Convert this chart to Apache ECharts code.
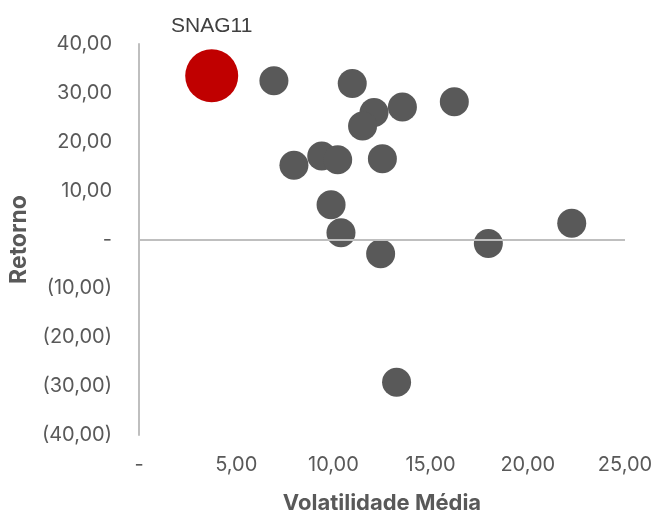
<!DOCTYPE html>
<html>
<head>
<meta charset="utf-8">
<script src="https://cdn.jsdelivr.net/npm/echarts@6/dist/echarts.min.js"></script>
<style>
  html, body { margin: 0; padding: 0; background: #fff; }
  #chart { width: 657px; height: 511px; }
</style>
</head>
<body>
<div id="chart"></div>
<script>
// fundos (volatilidade média x retorno)
const volatilidade = [6.94, 10.97, 12.09, 13.55, 16.22, 11.5, 7.97, 9.4, 10.22, 12.52, 9.88, 10.39, 12.43, 17.97, 22.26, 13.25];
const retorno = [32.5, 31.9, 26.0, 27.1, 28.2, 23.2, 15.2, 17.1, 16.3, 16.5, 7.1, 1.4, -2.9, -0.8, 3.3, -29.2];

// destaque
const destaqueNome = 'SNAG11';
const destaqueVol = 3.74;
const destaqueRet = 33.5;

const xTicks = [0, 5, 10, 15, 20, 25];
const yTicks = [-40, -30, -20, -10, 0, 10, 20, 30, 40];

const fonte = 'Inter';

function fmt(v) {
	if (v === 0) return '-';
	const s = Math.abs(v).toFixed(2).replace('.', ',');
	return v < 0 ? '(' + s + ')' : s;
}

const chart = echarts.init(document.getElementById('chart'));

const pontos = volatilidade.map((v, i) => [v, retorno[i]]);

const option = {
	animation: false,
	grid: {left: 139, right: 32, top: 44, bottom: 76, outerBoundsMode: 'none', containLabel: false},
	xAxis: {
		type: 'value',
		min: xTicks[0],
		max: xTicks[xTicks.length - 1],
		interval: 5,
		name: 'Volatilidade Média',
		nameLocation: 'middle',
		nameGap: 57,
		nameTextStyle: {fontFamily: fonte, fontSize: 22, fontWeight: 'bold', color: '#595959'},
		axisLine: {show: false, onZero: false},
		axisTick: {show: false},
		splitLine: {show: false},
		axisLabel: {
			margin: 20,
			fontFamily: fonte,
			fontSize: 20,
			color: '#595959',
			formatter: fmt
		}
	},
	yAxis: {
		type: 'value',
		min: yTicks[0],
		max: yTicks[yTicks.length - 1],
		interval: 10,
		name: 'Retorno',
		nameLocation: 'middle',
		nameGap: 88,
		nameTextStyle: {fontFamily: fonte, fontSize: 23, fontWeight: 'bold', color: '#595959'},
		axisLine: {show: true, lineStyle: {color: '#bfbfbf', width: 2}},
		axisTick: {show: false},
		splitLine: {show: false},
		axisLabel: {
			margin: 27,
			fontFamily: fonte,
			fontSize: 20,
			color: '#595959',
			formatter: fmt
		}
	},
	series: [
		{
			type: 'scatter',
			data: pontos,
			symbolSize: 29,
			itemStyle: {color: '#595959', opacity: 1},
			markLine: {
				silent: true,
				symbol: 'none',
				label: {show: false},
				lineStyle: {color: '#bfbfbf', width: 2, type: 'solid'},
				data: [{yAxis: 0}]
			}
		},
		{
			type: 'scatter',
			data: [[destaqueVol, destaqueRet]],
			symbolSize: 53,
			itemStyle: {color: '#c00000', opacity: 1},
			label: {
				show: true,
				position: 'top',
				distance: 13,
				formatter: destaqueNome,
				fontFamily: 'Liberation Sans',
				fontSize: 21,
				color: '#404040'
			}
		}
	]
};

chart.setOption(option);
</script>
</body>
</html>
